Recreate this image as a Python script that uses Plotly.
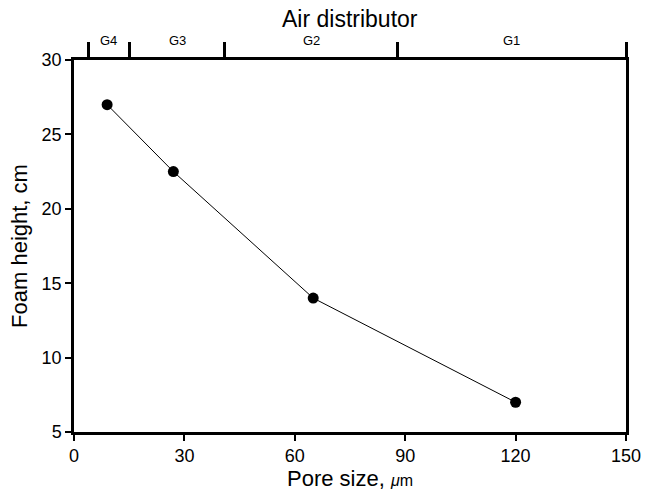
import plotly.graph_objects as go

# Foam height against air-distributor pore size
pore_size = [9, 27, 65, 120]
foam_height = [27, 22.5, 14, 7]

# Grade boundaries of the sintered-glass distributors (top axis)
grade_edges = [4, 15, 41, 88, 150]
grade_names = ["G4", "G3", "G2", "G1"]

x_ticks = [0, 30, 60, 90, 120, 150]
y_ticks = [5, 10, 15, 20, 25, 30]

FONT = "Liberation Sans, Arial, sans-serif"

fig = go.Figure()
fig.add_trace(go.Scatter(
    x=pore_size, y=foam_height, mode="lines+markers",
    line=dict(color="black", width=1),
    marker=dict(color="black", size=11),
    showlegend=False,
))
# invisible trace to activate the top axis
fig.add_trace(go.Scatter(x=[0, 150], y=[30, 30], xaxis="x2", mode="none",
                         showlegend=False, hoverinfo="skip"))

fig.update_layout(
    width=650, height=491,
    margin=dict(l=74, r=24, t=60, b=59),
    paper_bgcolor="white", plot_bgcolor="white",
    font=dict(family=FONT, color="black", size=18),
    xaxis=dict(
        range=[0, 150], tickvals=x_ticks, ticks="outside", ticklen=6,
        tickwidth=1.5, tickcolor="black",
        showline=True, linecolor="black", linewidth=2.5,
        showgrid=False, zeroline=False, automargin=False,
        title=dict(text="Pore size, <i><span style='font-size:16px'>μ</span></i><span style='font-size:16px'>m</span>",
                   font=dict(size=22), standoff=2),
        tickfont=dict(size=18),
    ),
    xaxis2=dict(
        range=[0, 150], overlaying="x", side="top", anchor="y",
        tickvals=grade_edges, showticklabels=False, ticks="outside",
        ticklen=15, tickwidth=2.5, tickcolor="black",
        showline=True, linecolor="black", linewidth=2.5,
        showgrid=False, zeroline=False, automargin=False,
    ),
    yaxis=dict(
        range=[5, 30], tickvals=y_ticks, ticks="outside", ticklen=6,
        tickwidth=1.5, tickcolor="black",
        showline=True, linecolor="black", linewidth=2.5, mirror=True,
        showgrid=False, zeroline=False, automargin=False,
        title=dict(text="Foam height, cm", font=dict(size=22), standoff=8),
        tickfont=dict(size=18),
    ),
)

for lo, hi, name in zip(grade_edges[:-1], grade_edges[1:], grade_names):
    fig.add_annotation(x=(lo + hi) / 2, y=1, xref="x", yref="paper",
                       text=name, showarrow=False, yanchor="middle", yshift=20,
                       font=dict(size=13, family=FONT, color="black"))

fig.add_annotation(x=0.5, y=1, xref="paper", yref="paper", text="Air distributor",
                   showarrow=False, yanchor="middle", yshift=41,
                   font=dict(size=23, family=FONT, color="black"))

fig.write_html("out.html")
